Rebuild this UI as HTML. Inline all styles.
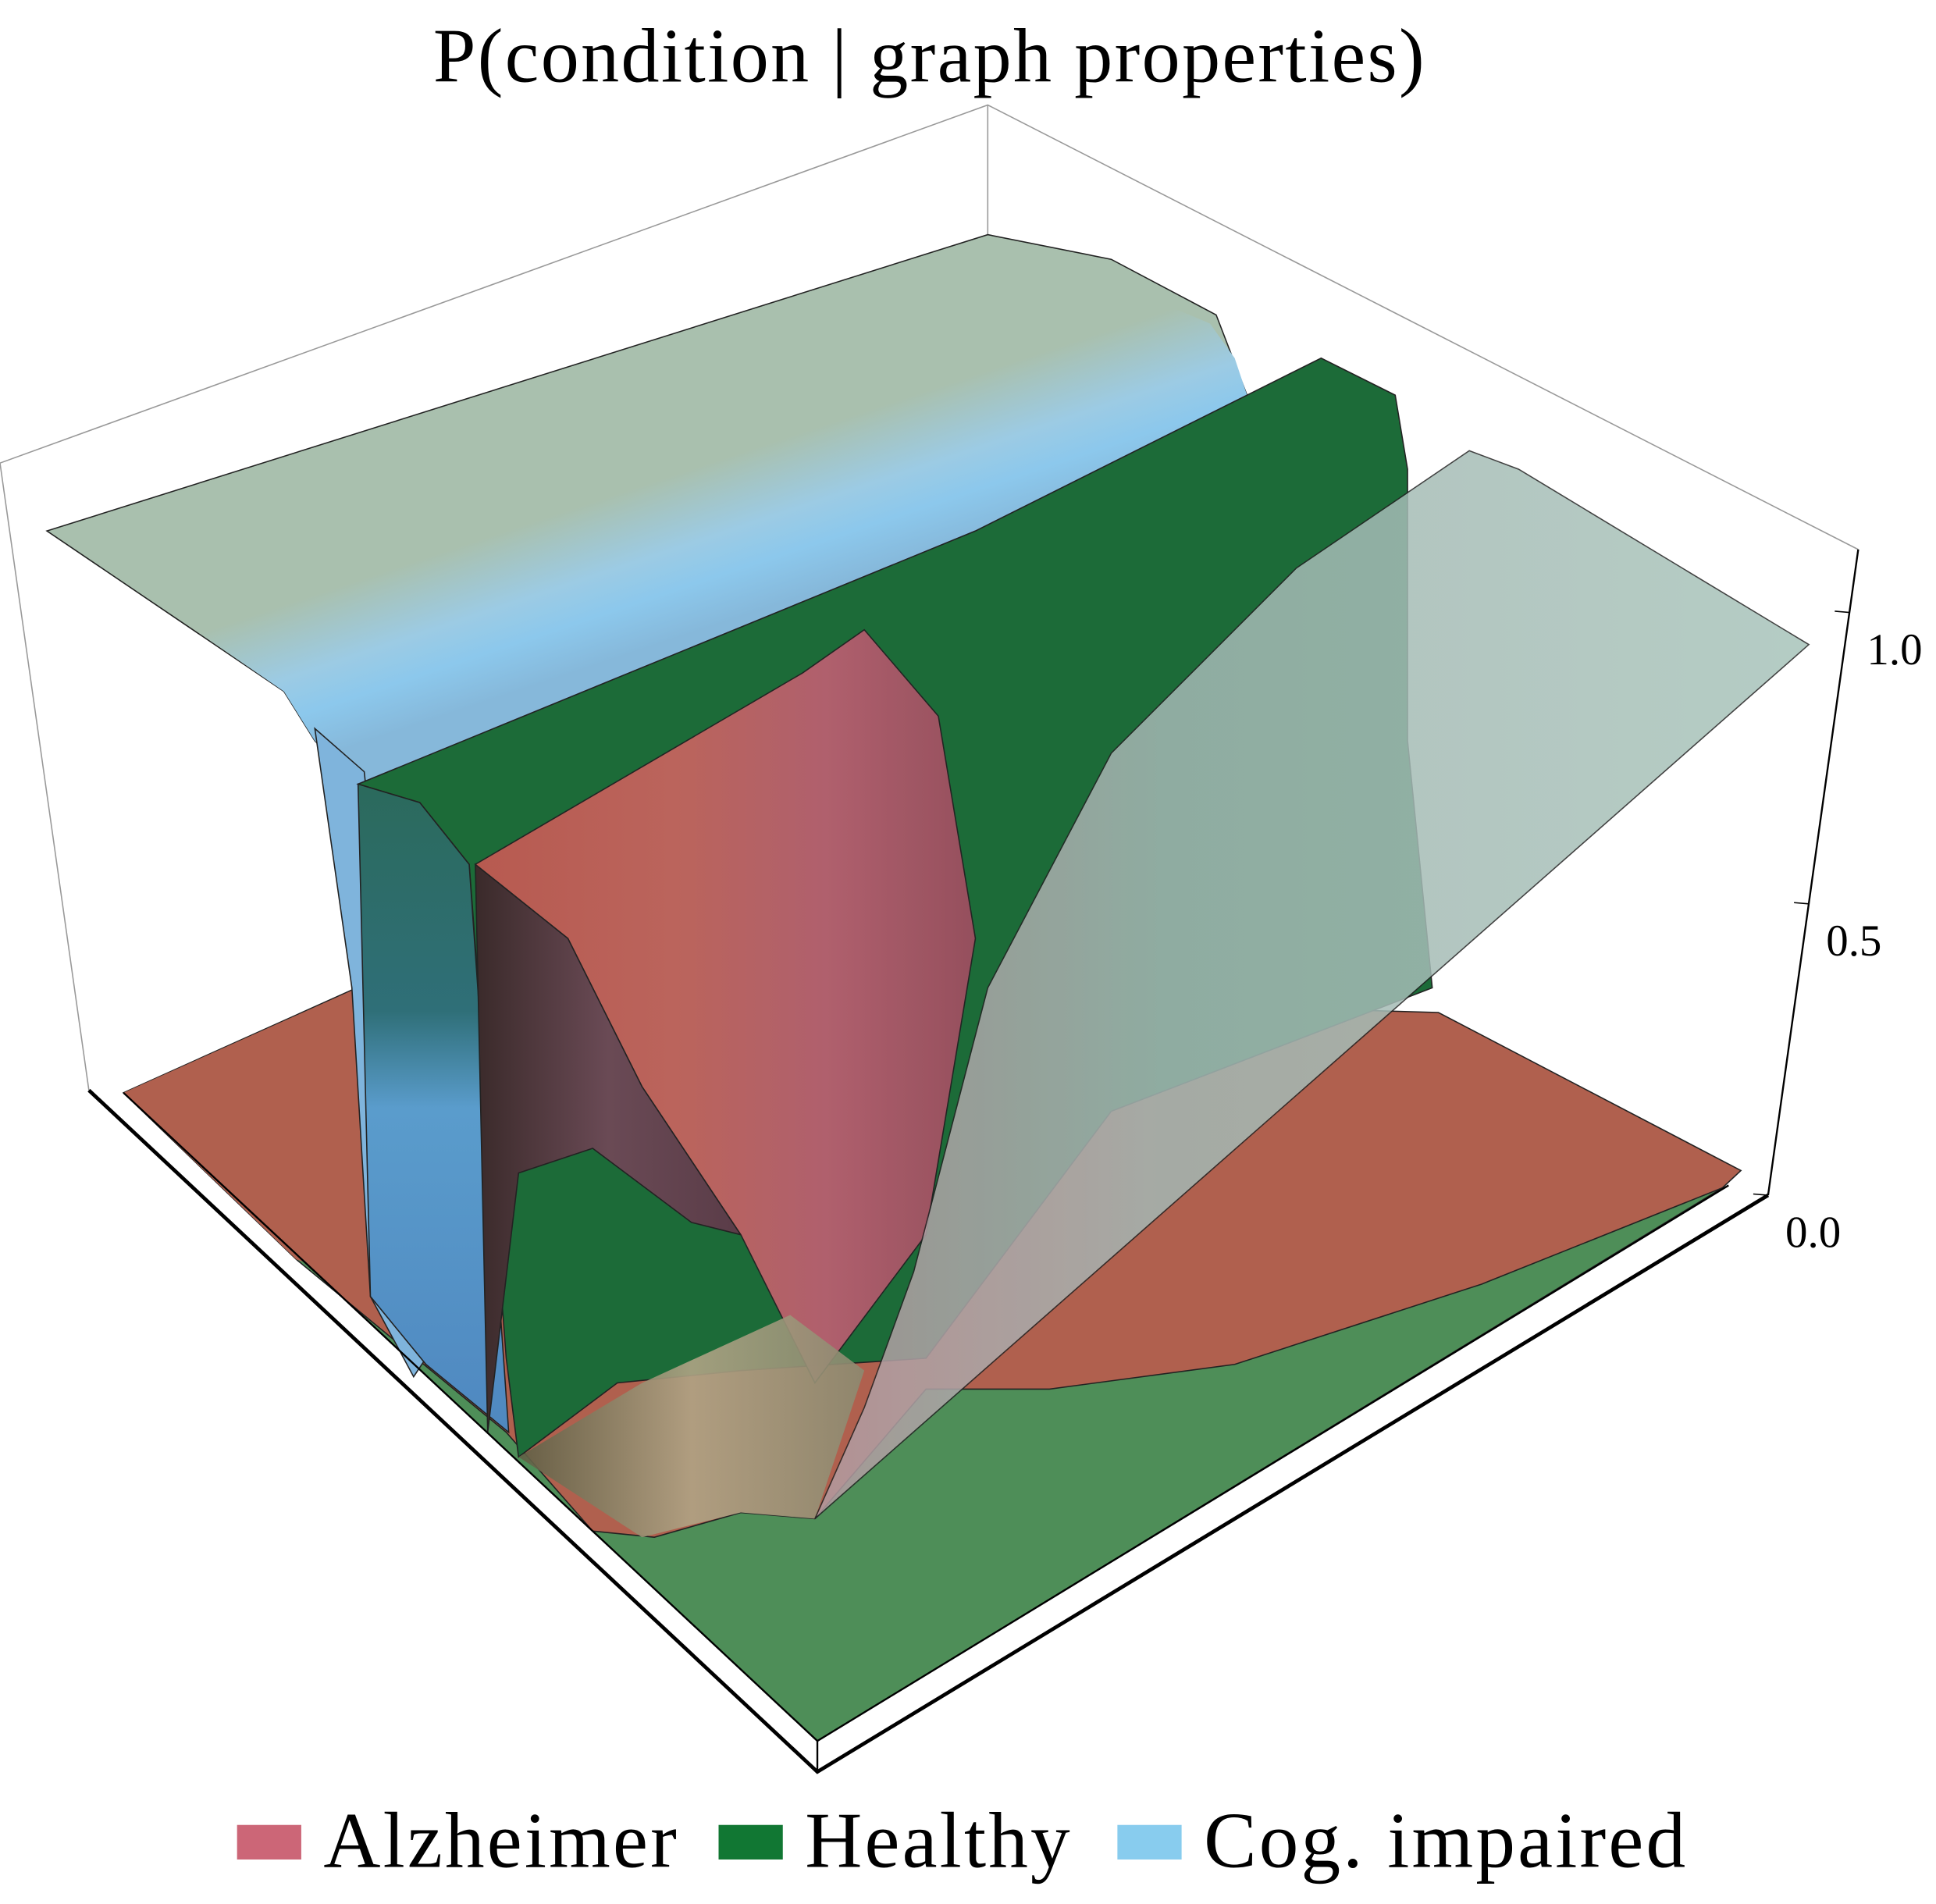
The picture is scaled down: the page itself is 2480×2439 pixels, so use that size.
<!DOCTYPE html>
<html><head><meta charset="utf-8"><style>
html,body{margin:0;padding:0;background:#fff;}
svg{display:block;}
</style></head><body>
<svg id="chart" width="2480" height="2439" viewBox="0 0 1568 1542" xmlns="http://www.w3.org/2000/svg">
<defs>
<linearGradient id="bandGrad" gradientUnits="userSpaceOnUse" x1="560" y1="380" x2="600" y2="500">
<stop offset="0" stop-color="#a9c0ae"/><stop offset="0.45" stop-color="#9ccbe4"/><stop offset="0.7" stop-color="#8cc8ec"/><stop offset="1" stop-color="#86b8da"/>
</linearGradient>
<linearGradient id="leftFace" x1="0" y1="0" x2="0" y2="1">
<stop offset="0" stop-color="#2b6a5c"/><stop offset="0.35" stop-color="#2f6f78"/><stop offset="0.5" stop-color="#5a9ccc"/><stop offset="1" stop-color="#4f88c0"/>
</linearGradient>
<linearGradient id="frontStrip" x1="0" y1="0" x2="1" y2="0">
<stop offset="0" stop-color="#5f5e44"/><stop offset="0.5" stop-color="#b0a485"/><stop offset="1" stop-color="#8c8a70"/>
</linearGradient>
<linearGradient id="redHump" x1="0" y1="0" x2="1" y2="0">
<stop offset="0" stop-color="#c05a52"/><stop offset="0.4" stop-color="#c4645e"/><stop offset="0.7" stop-color="#b86070"/><stop offset="1" stop-color="#9c4e60"/>
</linearGradient>
<linearGradient id="humpSide" x1="0" y1="0" x2="1" y2="0">
<stop offset="0" stop-color="#3a2a2a"/><stop offset="0.5" stop-color="#6a4a55"/><stop offset="1" stop-color="#5a3c48"/>
</linearGradient>
<linearGradient id="rightPlat" x1="0" y1="0" x2="1" y2="0">
<stop offset="0" stop-color="#b49aa0"/><stop offset="0.35" stop-color="#a4b8b4"/><stop offset="1" stop-color="#a8c4ba"/>
</linearGradient>
</defs>
<text x="753" y="66" text-anchor="middle" font-family="Liberation Serif, serif" font-size="62" letter-spacing="1.5">P(condition | graph properties)</text>
<g stroke="#999" stroke-width="1" fill="none">
<polyline points="72,883 0,375 800,85 1505,445"/>
<line x1="800" y1="85" x2="800" y2="560"/>
</g>
<polygon points="100,885 300,795 1165,820 1410,948 1395,962 662,1410" fill="#b0604e" stroke="#222" stroke-width="1"/>
<polygon points="240,1020 410,1160 480,1240 530,1245 600,1225 660,1230 750,1125 850,1125 1000,1105 1200,1040 1395,962 662,1410 100,885" fill="#4e8e58" stroke="#222" stroke-width="1"/>
<polygon points="100,885 290,800 300,1040 240,1020" fill="#b0604e"/>
<polygon points="38,430 800,190 900,210 985,255 1010,320 790,432 290,635 255,600 230,560" fill="#a9c0ae" stroke="#222" stroke-width="1"/>
<polygon points="150,505 940,245 980,262 1000,290 1010,320 790,432 290,635 255,600 230,560" fill="url(#bandGrad)"/>
<polygon points="255,590 295,625 345,1100 335,1115 300,1050 285,800" fill="#7fb4dc" stroke="#222" stroke-width="1"/>
<polygon points="290,635 790,430 1010,320 1070,290 1130,320 1140,380 1140,600 1160,800 900,900 750,1100 600,1110 500,1120 420,1180 410,1100 380,700 340,650" fill="#1c6b38" stroke="#222" stroke-width="1"/>
<polygon points="290,635 340,650 380,700 412,1160 345,1105 300,1050" fill="url(#leftFace)" stroke="#222" stroke-width="1"/>
<polygon points="385,700 460,760 520,880 600,1000 560,990 480,930 420,950 395,1160" fill="url(#humpSide)" stroke="#222" stroke-width="1"/>
<polygon points="385,700 650,545 700,510 760,580 790,760 750,1000 660,1120 600,1000 520,880 460,760" fill="url(#redHump)" stroke="#222" stroke-width="1" opacity="0.95"/>
<polygon points="420,1180 520,1245 600,1225 660,1230 700,1110 640,1065 520,1120" fill="url(#frontStrip)" opacity="0.9"/>
<polygon points="660,1230 700,1140 740,1030 800,800 900,610 1050,460 1190,365 1230,380 1465,522" fill="url(#rightPlat)" opacity="0.85" stroke="#222" stroke-width="1"/>
<g fill="none">
<polyline points="72,883 662,1435 1432,968" stroke="#000" stroke-width="3"/>
<polyline points="100,885 662,1410 1400,960" stroke="#000" stroke-width="1.5"/>
<line x1="662" y1="1410" x2="662" y2="1435" stroke="#000" stroke-width="1.5"/>
<line x1="1432" y1="968" x2="1505" y2="445" stroke="#000" stroke-width="1.5"/>
</g>
<g id="zaxis"></g>
<g font-family="Liberation Serif, serif" font-size="64" letter-spacing="2">
<rect x="192" y="1478" width="52" height="28" fill="#cc6677"/>
<text x="262" y="1512">Alzheimer</text>
<rect x="582" y="1478" width="52" height="28" fill="#117733"/>
<text x="652" y="1512">Healthy</text>
<rect x="905" y="1478" width="52" height="28" fill="#88ccee"/>
<text x="975" y="1512">Cog. impaired</text>
</g>
</svg>
<script>
const zTicks = [0, 0.5, 1.0];
const zLabels = ["0.0", "0.5", "1.0"];
function zAxisX(z){ return 1432 + z * 66; }
function zAxisY(z){ return 968 - z * 472; }
function zLabelY(z){ return 1010 - z * 472; }
const g = document.getElementById('zaxis');
const ns = 'http://www.w3.org/2000/svg';
zTicks.forEach((z, i) => {
  const t = document.createElementNS(ns, 'line');
  t.setAttribute('x1', zAxisX(z)); t.setAttribute('y1', zAxisY(z));
  t.setAttribute('x2', zAxisX(z) - 12); t.setAttribute('y2', zAxisY(z) - 1);
  t.setAttribute('stroke', '#000');
  
  
  g.appendChild(t);
  const l = document.createElementNS(ns, 'text');
  l.setAttribute('x', zAxisX(z) + 14);
  l.setAttribute('y', zLabelY(z));
  l.setAttribute('font-family', 'Liberation Serif, serif');
  l.setAttribute('font-size', '36');
  l.textContent = zLabels[i];
  
  
  g.appendChild(l);
});
</script>
</body></html>
